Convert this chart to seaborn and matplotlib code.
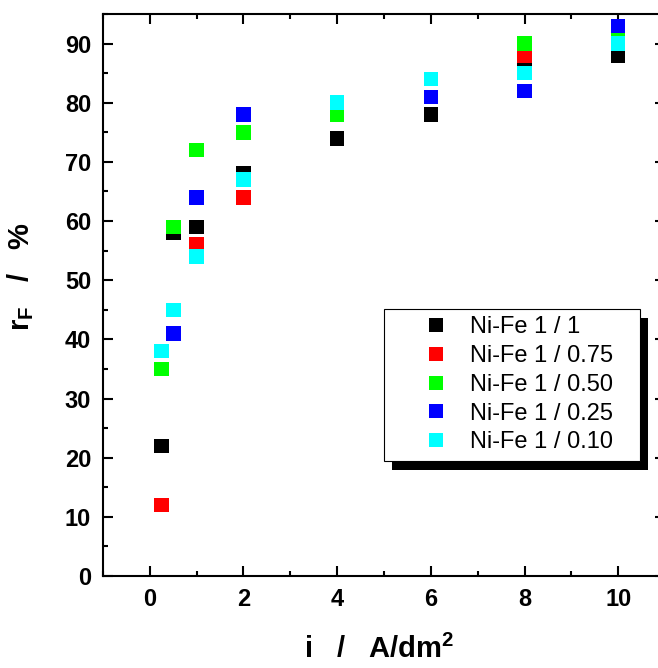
import matplotlib
matplotlib.use("Agg")
import matplotlib.pyplot as plt
from matplotlib.patches import Rectangle
from matplotlib.ticker import MultipleLocator
import pandas as pd
import seaborn as sns

# current density i (A/dm2) and current efficiency r_F (%) per bath ratio
x_1_1 = [0.25, 0.5, 1, 2, 4, 6, 8, 10]
y_1_1 = [22, 58, 59, 68, 74, 78, 87, 88]
x_1_075 = [0.25, 1, 2, 8]
y_1_075 = [12, 56, 64, 88]
x_1_050 = [0.25, 0.5, 1, 2, 4, 8, 10]
y_1_050 = [35, 59, 72, 75, 78, 90, 91]
x_1_025 = [0.5, 1, 2, 6, 8, 10]
y_1_025 = [41, 64, 78, 81, 82, 93]
x_1_010 = [0.25, 0.5, 1, 2, 4, 6, 8, 10]
y_1_010 = [38, 45, 54, 67, 80, 84, 85, 90]

labels = ["Ni-Fe 1 / 1", "Ni-Fe 1 / 0.75", "Ni-Fe 1 / 0.50", "Ni-Fe 1 / 0.25", "Ni-Fe 1 / 0.10"]
colors = ["#000000", "#ff0000", "#00ff00", "#0000ff", "#00ffff"]

series = [(x_1_1, y_1_1), (x_1_075, y_1_075), (x_1_050, y_1_050),
          (x_1_025, y_1_025), (x_1_010, y_1_010)]
frames = []
for lab, (xs, ys) in zip(labels, series):
    frames.append(pd.DataFrame({"i": xs, "rF": ys, "bath": lab}))
df = pd.concat(frames, ignore_index=True)

sns.set_style("ticks")
plt.rcParams["font.family"] = ["Liberation Sans", "DejaVu Sans"]
plt.rcParams["mathtext.fontset"] = "custom"
plt.rcParams["mathtext.rm"] = "Liberation Sans:bold"
plt.rcParams["mathtext.bf"] = "Liberation Sans:bold"
for key in ["text.color", "axes.labelcolor", "xtick.color", "ytick.color", "axes.edgecolor"]:
    plt.rcParams[key] = "black"

fig = plt.figure(figsize=(6.58, 6.68), dpi=100)
ax = fig.add_axes([103 / 658, 92 / 668, (665 - 103) / 658, (576 - 14) / 668])

sns.scatterplot(data=df, x="i", y="rF", hue="bath", hue_order=labels,
                palette=colors, marker="s", s=110, linewidth=0, ax=ax)

ax.set_xlim(-1, 11)
ax.set_ylim(0, 95)
ax.xaxis.set_major_locator(MultipleLocator(2))
ax.xaxis.set_minor_locator(MultipleLocator(1))
ax.yaxis.set_major_locator(MultipleLocator(10))
ax.yaxis.set_minor_locator(MultipleLocator(5))
ax.tick_params(which="both", direction="in", top=True, right=True, width=1.5)
ax.tick_params(which="major", length=7, labelsize=17, pad=8.5)
ax.tick_params(which="minor", length=3.5)
for lbl in ax.get_xticklabels() + ax.get_yticklabels():
    lbl.set_fontweight("bold")
for sp in ax.spines.values():
    sp.set_linewidth(1.5)

ax.set_xlabel("i   /   A/dm$^\\mathrm{2}$", fontsize=21, fontweight="bold")
ax.set_ylabel("r$_\\mathrm{F}$   /   %", fontsize=21, fontweight="bold")
ax.xaxis.set_label_coords(0.491, -0.105)
ax.yaxis.set_label_coords(-0.12, 0.532)

# legend without its own frame; frame and hard shadow drawn around it below
leg = ax.legend(loc="upper left", bbox_to_anchor=(384 / 658, 1 - 309 / 668),
                bbox_transform=fig.transFigure, borderaxespad=0, frameon=False,
                fontsize=17, labelspacing=0.29, handlelength=3.8,
                handletextpad=-0.45, borderpad=0.3, markerscale=1.0)
leg.set_zorder(10)

fig.canvas.draw()
bb = leg.get_window_extent().transformed(fig.transFigure.inverted())
w = bb.width + 20 / 658
frame = Rectangle((bb.x0, bb.y0), w, bb.height, transform=fig.transFigure,
                  facecolor="white", edgecolor="black", linewidth=0.8,
                  zorder=9.5, clip_on=False)
shadow = Rectangle((bb.x0 + 8 / 658, bb.y0 - 9 / 668), w, bb.height,
                   transform=fig.transFigure, facecolor="black", edgecolor="none",
                   zorder=9, clip_on=False)
ax.add_artist(shadow)
ax.add_artist(frame)

fig.savefig("out.png", dpi=100)
